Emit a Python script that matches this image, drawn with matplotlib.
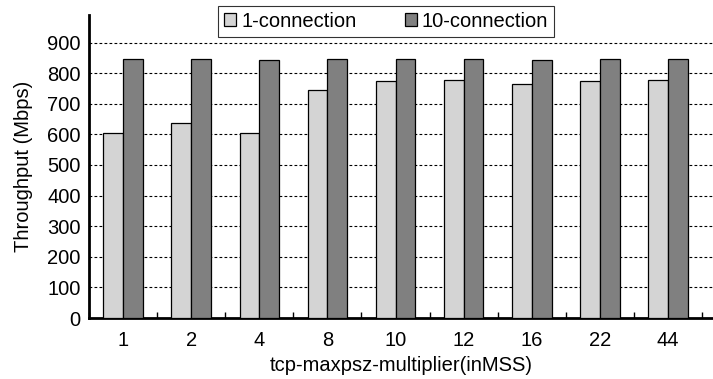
import matplotlib.pyplot as plt
import numpy as np

plt.rcParams['font.family'] = ['Liberation Sans', 'DejaVu Sans']

# data
multipliers = ['1', '2', '4', '8', '10', '12', '16', '22', '44']
one_conn = [605, 636, 605, 746, 774, 778, 764, 774, 778]
ten_conn = [847, 847, 844, 847, 847, 847, 844, 847, 847]
series_names = ['1-connection', '10-connection']

fig = plt.figure(figsize=(7.13, 3.79), dpi=100)
ax = fig.add_axes([89 / 713, 61 / 379, 624 / 713, 303 / 379])

x = np.arange(len(multipliers))
w = 0.29
ax.bar(x - w / 2, one_conn, w, color='#d4d4d4', edgecolor='black', linewidth=0.9,
       label=series_names[0], zorder=3)
ax.bar(x + w / 2, ten_conn, w, color='#808080', edgecolor='black', linewidth=0.9,
       label=series_names[1], zorder=3)

ax.set_xlim(-0.5, 8.66)
ax.set_ylim(0, 990)
ax.set_yticks(range(0, 1000, 100))
ax.set_xticks(x)
ax.set_xticklabels(multipliers, fontsize=14.5)
ax.tick_params(axis='y', labelsize=14.5, length=0, pad=6)
ax.tick_params(axis='x', which='major', length=0, pad=9)
ax.set_xticks(np.arange(-0.5, 9, 1), minor=True)
ax.tick_params(axis='x', which='minor', direction='in', length=4, width=1)

for yv in range(100, 1000, 100):
    ax.axhline(yv, color='black', linestyle=(0, (2.5, 2)), linewidth=0.8, zorder=1)

for s in ['top', 'right']:
    ax.spines[s].set_visible(False)
ax.spines['left'].set_linewidth(2)
ax.spines['bottom'].set_linewidth(2)

ax.set_ylabel('Throughput (Mbps)', fontsize=14.5, labelpad=10)
ax.set_xlabel('tcp-maxpsz-multiplier(inMSS)', fontsize=14.5, labelpad=5)

leg = ax.legend(ncol=2, loc='upper center', bbox_to_anchor=(0.476, 1.03),
                fontsize=14.5, frameon=True, fancybox=False, edgecolor='black',
                handlelength=0.6, handleheight=0.6, handletextpad=0.25,
                columnspacing=2.4, borderpad=0.3, borderaxespad=0)
leg.get_frame().set_linewidth(0.8)

fig.savefig('out.png', dpi=100, facecolor='white')
